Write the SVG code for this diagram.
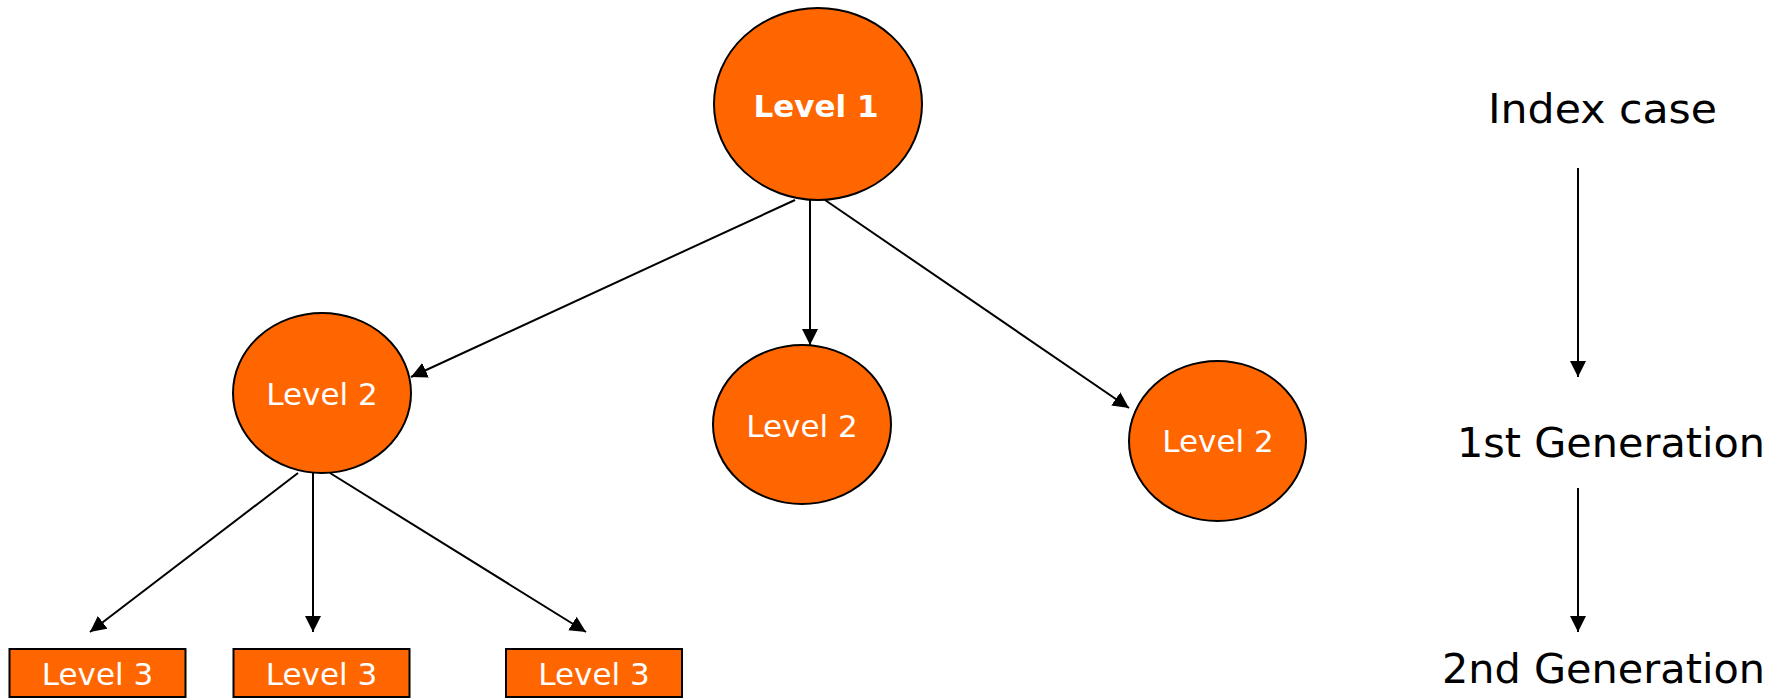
<svg xmlns="http://www.w3.org/2000/svg" width="1790" height="698" viewBox="0 0 1790 698">
<style>
.node{fill:#FF6600;stroke:#000;stroke-width:2}
.nt{font-family:"DejaVu Sans",Verdana,sans-serif;font-size:31px;fill:#fff;text-anchor:middle}
.lab{font-family:"DejaVu Sans",Verdana,sans-serif;font-size:41px;fill:#000}
.edge{stroke:#000;stroke-width:2;fill:none;marker-end:url(#arr)}
</style>
<defs>
<marker id="arr" markerUnits="userSpaceOnUse" markerWidth="16" markerHeight="16" refX="16" refY="8" orient="auto" viewBox="0 0 16 16">
<path d="M0,0 L16,8 L0,16 z" fill="#000"/>
</marker>
</defs>
<rect width="1790" height="698" fill="#fff"/>
<g id="connectors">
<line class="edge" x1="795" y1="200" x2="411" y2="377"/>
<line class="edge" x1="810" y1="200" x2="810" y2="345"/>
<line class="edge" x1="825" y1="200" x2="1129" y2="408"/>
<line class="edge" x1="298" y1="473" x2="90" y2="632"/>
<line class="edge" x1="313" y1="473" x2="313" y2="632"/>
<line class="edge" x1="330" y1="473" x2="586" y2="632"/>
<line class="edge" x1="1578" y1="168" x2="1578" y2="377"/>
<line class="edge" x1="1578" y1="488" x2="1578" y2="632"/>
</g>
<g id="level1">
<ellipse class="node" cx="818" cy="104" rx="104" ry="96"/>
<text class="nt" x="816" y="117" font-weight="bold" font-size="31">Level 1</text>
</g>
<g id="level2a">
<ellipse class="node" cx="322" cy="393" rx="89" ry="80"/>
<text class="nt" x="322" y="405">Level 2</text>
</g>
<g id="level2b">
<ellipse class="node" cx="802" cy="424.5" rx="89" ry="79.5"/>
<text class="nt" x="802" y="437">Level 2</text>
</g>
<g id="level2c">
<ellipse class="node" cx="1217.5" cy="441" rx="88.5" ry="80"/>
<text class="nt" x="1218" y="452">Level 2</text>
</g>
<g id="level3a">
<rect class="node" x="9.5" y="649" width="176" height="48"/>
<text class="nt" x="97.5" y="685">Level 3</text>
</g>
<g id="level3b">
<rect class="node" x="233.5" y="649" width="176" height="48"/>
<text class="nt" x="321.5" y="685">Level 3</text>
</g>
<g id="level3c">
<rect class="node" x="506" y="649" width="176" height="48"/>
<text class="nt" x="594" y="685">Level 3</text>
</g>
<g id="legend">
<text class="lab" x="1488" y="123" textLength="229" lengthAdjust="spacingAndGlyphs">Index case</text>
<text class="lab" x="1457" y="457" textLength="308" lengthAdjust="spacingAndGlyphs">1st Generation</text>
<text class="lab" x="1442" y="683" textLength="323" lengthAdjust="spacingAndGlyphs">2nd Generation</text>
</g>
</svg>
